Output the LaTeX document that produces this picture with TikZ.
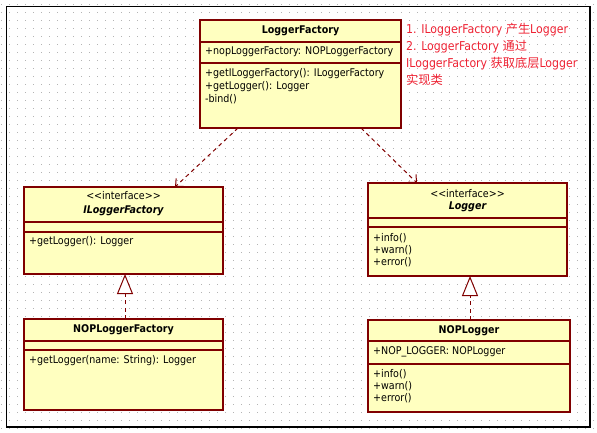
\documentclass[tikz,border=0pt]{standalone}
\usepackage{fontspec}
\setmainfont{DejaVu Sans Condensed}
\newfontfamily\cjk{Noto Sans CJK SC}
\usetikzlibrary{arrows.meta}
\definecolor{boxfill}{RGB}{255,255,192}
\definecolor{boxline}{RGB}{128,0,0}
\definecolor{notec}{RGB}{238,34,51}
\definecolor{dotc}{RGB}{180,180,180}
\begin{document}
\begin{tikzpicture}[x=1pt,y=-1pt,
  cls/.style={draw=boxline, fill=boxfill, line width=1.3pt, anchor=north west, inner sep=0pt, outer sep=0pt},
  sep/.style={draw=boxline, line width=1.2pt},
  txt/.style={anchor=west, inner sep=0pt, font=\fontsize{10.6}{12}\selectfont, text height=7.5pt, text depth=2pt},
  ttl/.style={anchor=center, inner sep=0pt, font=\fontsize{10.6}{12}\selectfont\bfseries, text height=7.5pt, text depth=2pt},
  ittl/.style={anchor=center, inner sep=0pt, font=\fontsize{10.6}{12}\selectfont\bfseries\itshape, text height=7.5pt, text depth=2pt},
  stereo/.style={anchor=center, inner sep=0pt, font=\fontsize{10.6}{12}\selectfont, text height=7.5pt, text depth=2pt},
  notetxt/.style={anchor=west, inner sep=0pt, text=notec, font=\fontsize{12.2}{14}\selectfont, text height=9pt, text depth=2.5pt},
  dep/.style={draw=boxline, line width=1pt, dash pattern=on 4pt off 3.5pt, -{Straight Barb[length=6pt,width=11pt]}},
  real/.style={draw=boxline, line width=1pt, dash pattern=on 4pt off 3.5pt, -{Triangle[open,length=20pt,width=16pt,fill=white]}}
]
\useasboundingbox (0,0) rectangle (597,433);
% dotted grid
\foreach \i in {0,...,74} {
  \foreach \j in {0,...,53} {
    \fill[dotc] (1+8*\i,4+8*\j) rectangle ++(1,1);
  }
}
% frame
\draw[line width=1.6pt] (6.5,6.5) rectangle (590,427);

% LoggerFactory
\node[cls, minimum width=201pt, minimum height=108pt] (lf) at (200,20) {};
\draw[sep] (200,42) -- (401,42);
\draw[sep] (200,63) -- (401,63);
\node[ttl] (lft) at (300.5,30.5) {LoggerFactory};
\node[txt] (lff) at (205,52) {+nopLoggerFactory: NOPLoggerFactory};
\node[txt] (lfm1) at (205,74) {+getILoggerFactory(): ILoggerFactory};
\node[txt] (lfm2) at (205,87) {+getLogger(): Logger};
\node[txt] (lfm3) at (205,100) {-bind()};

% ILoggerFactory
\node[cls, minimum width=199pt, minimum height=87pt] (ilf) at (24,187) {};
\draw[sep] (24,222) -- (223,222);
\draw[sep] (24,232) -- (223,232);
\node[stereo] (ilfs) at (123.5,197) {<{}<interface>{}>};
\node[ittl] (ilft) at (123.5,211) {ILoggerFactory};
\node[txt] (ilfm1) at (29,242) {+getLogger(): Logger};

% Logger
\node[cls, minimum width=199pt, minimum height=93pt] (lg) at (368,183) {};
\draw[sep] (368,218) -- (567,218);
\draw[sep] (368,227) -- (567,227);
\node[stereo] (lgs) at (467.5,195) {<{}<interface>{}>};
\node[ittl] (lgt) at (467.5,207) {Logger};
\node[txt] (lgm1) at (373,239) {+info()};
\node[txt] (lgm2) at (373,251) {+warn()};
\node[txt] (lgm3) at (373,263) {+error()};

% NOPLoggerFactory
\node[cls, minimum width=199pt, minimum height=91pt] (nlf) at (24,319) {};
\draw[sep] (24,341) -- (223,341);
\draw[sep] (24,350) -- (223,350);
\node[ttl] (nlft) at (123.5,330) {NOPLoggerFactory};
\node[txt] (nlfm1) at (29,361) {+getLogger(name: String): Logger};

% NOPLogger
\node[cls, minimum width=202pt, minimum height=92pt] (nl) at (368,320) {};
\draw[sep] (368,341) -- (570,341);
\draw[sep] (368,364) -- (570,364);
\node[ttl] (nlt) at (469,331) {NOPLogger};
\node[txt] (nlf1) at (373,352) {+NOP\_LOGGER: NOPLogger};
\node[txt] (nlm1) at (373,375) {+info()};
\node[txt] (nlm2) at (373,387) {+warn()};
\node[txt] (nlm3) at (373,399) {+error()};

% note
\node[notetxt] (n1) at (406,30) {1. ILoggerFactory {\cjk 产生}Logger};
\node[notetxt] (n2) at (406,47) {2. LoggerFactory {\cjk 通过}};
\node[notetxt] (n3) at (406,64) {ILoggerFactory {\cjk 获取底层}Logger};
\node[notetxt] (n4) at (406,81) {{\cjk 实现类}};

% connectors
\draw[dep] ([xshift=-62.5pt]lf.south) -- ([xshift=51.5pt]ilf.north);
\draw[dep] ([xshift=60.5pt]lf.south) -- ([xshift=-50.5pt]lg.north);
\draw[real] ([xshift=1.5pt]nlf.north) -- ([xshift=1.5pt]ilf.south);
\draw[real] ([xshift=1pt]nl.north) -- ([xshift=2.5pt]lg.south);
\end{tikzpicture}
\end{document}
